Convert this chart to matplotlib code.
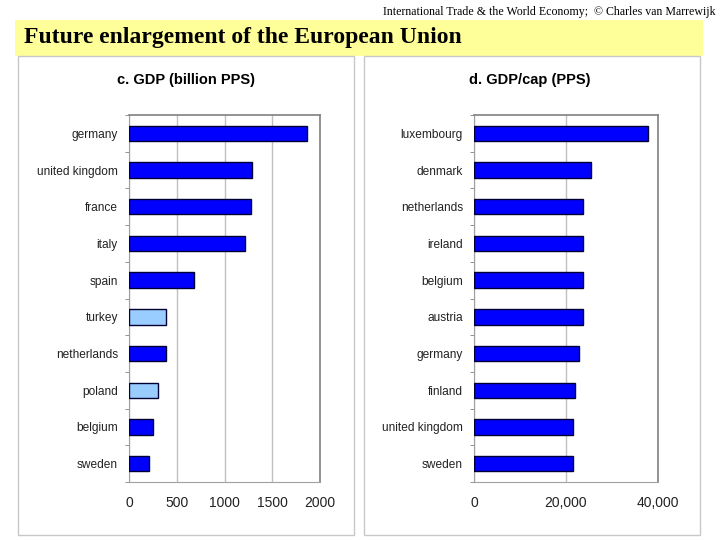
import matplotlib.pyplot as plt
from matplotlib.patches import Rectangle
import numpy as np

# panel c: GDP (billion PPS)
gdp_countries = ['germany', 'united kingdom', 'france', 'italy', 'spain',
                 'turkey', 'netherlands', 'poland', 'belgium', 'sweden']
gdp_values = [1860, 1285, 1275, 1215, 680, 390, 392, 305, 250, 210]
gdp_candidate = ['turkey', 'poland']

# panel d: GDP per capita (PPS)
cap_countries = ['luxembourg', 'denmark', 'netherlands', 'ireland', 'belgium',
                 'austria', 'germany', 'finland', 'united kingdom', 'sweden']
cap_values = [37800, 25400, 23800, 23600, 23600, 23650, 22750, 21900, 21600, 21600]

gdp_ticks = [0, 500, 1000, 1500, 2000]
gdp_ticklabels = ['0', '500', '1000', '1500', '2000']
cap_ticks = [0, 20000, 40000]
cap_ticklabels = ['0', '20,000', '40,000']

W, H = 720, 540
fig = plt.figure(figsize=(7.2, 5.4), dpi=100)
fig.patch.set_facecolor('white')

def fx(px):
    return px / W

def fy(py):
    return 1 - py / H

# yellow banner
fig.patches.append(Rectangle((fx(15), fy(56)), fx(703) - fx(15), fy(20) - fy(56),
                             transform=fig.transFigure, facecolor='#FFFF99',
                             edgecolor='none', zorder=0))
fig.text(fx(24), fy(38), 'Future enlargement of the European Union',
         family='Liberation Serif', weight='bold', fontsize=17, va='center', ha='left')
fig.text(fx(716), fy(12), 'International Trade & the World Economy;  \u00a9 Charles van Marrewijk',
         family='Liberation Serif', fontsize=8.6, va='center', ha='right')

# panel frames
for x0, x1 in [(18, 354), (364, 700)]:
    fig.patches.append(Rectangle((fx(x0), fy(535)), fx(x1) - fx(x0), fy(56) - fy(535),
                                 transform=fig.transFigure, facecolor='none',
                                 edgecolor='#C8C8C8', linewidth=1.0, zorder=0))


def draw_panel(rect, title, title_x, countries, values, ticks, ticklabels, colors):
    ax = fig.add_axes(rect)
    n = len(countries)
    y = np.arange(n)
    ax.barh(y, values, height=0.42, color=colors, edgecolor='#000033', linewidth=1.0, zorder=3)
    ax.set_ylim(n - 0.5, -0.5)
    ax.set_xlim(ticks[0], ticks[-1])
    ax.set_yticks(y)
    ax.set_yticklabels(countries, family='Liberation Sans', fontsize=8.6, color='#222222')
    ax.set_yticks(np.arange(n + 1) - 0.5, minor=True)
    ax.tick_params(axis='y', which='major', length=0, pad=8)
    ax.tick_params(axis='y', which='minor', length=3, color='#808080', direction='out')
    ax.set_xticks(ticks)
    ax.set_xticklabels(ticklabels, family='Liberation Sans', fontsize=10, color='#222222')
    ax.tick_params(axis='x', length=0, pad=10)
    ax.grid(axis='x', color='#C0C0C0', linewidth=1.0, zorder=0)
    for s in ['top', 'right']:
        ax.spines[s].set_color('#808080')
        ax.spines[s].set_linewidth(1.2)
    for s in ['left', 'bottom']:
        ax.spines[s].set_color('#A0A0A0')
        ax.spines[s].set_linewidth(0.8)
    fig.text(fx(title_x), fy(80), title, family='Liberation Sans', weight='bold',
             fontsize=10.5, ha='center', va='center')
    return ax


gdp_colors = ['#99CCFF' if c in gdp_candidate else '#0000FF' for c in gdp_countries]
cap_colors = ['#0000FF'] * len(cap_countries)

draw_panel([fx(129), fy(482), fx(320) - fx(129), fy(115) - fy(482)],
           'c. GDP (billion PPS)', 186, gdp_countries, gdp_values,
           gdp_ticks, gdp_ticklabels, gdp_colors)
draw_panel([fx(474), fy(482), fx(658) - fx(474), fy(115) - fy(482)],
           'd. GDP/cap (PPS)', 530, cap_countries, cap_values,
           cap_ticks, cap_ticklabels, cap_colors)

fig.savefig('out.png', dpi=100)
